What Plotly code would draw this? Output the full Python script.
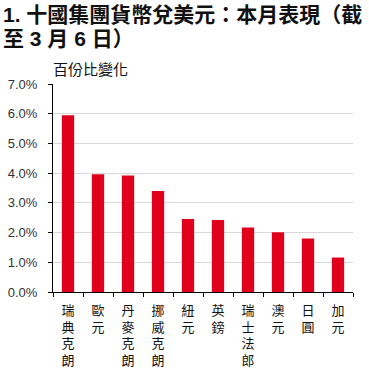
import plotly.graph_objects as go

categories = ["瑞典克朗", "歐元", "丹麥克朗", "挪威克朗", "紐元", "英鎊", "瑞士法郎", "澳元", "日圓", "加元"]
values = [5.95, 3.96, 3.92, 3.40, 2.46, 2.42, 2.17, 2.01, 1.80, 1.16]
y_ticks = [0, 1, 2, 3, 4, 5, 6, 7]
y_tick_labels = ["0.0%", "1.0%", "2.0%", "3.0%", "4.0%", "5.0%", "6.0%", "7.0%"]
title_line1 = "1. 十國集團貨幣兌美元：本月表現（截"
title_line2 = "至 3 月 6 日）"
y_title = "百份比變化"

vertical_labels = ["<br>".join(list(c)) for c in categories]

CJK = "Liberation Sans, Noto Sans CJK TC, sans-serif"

W, H = 369, 377
L, R = 53, W - 353
T, B = 83.5, H - 292.3

fig = go.Figure(go.Bar(
    x=vertical_labels,
    y=values,
    marker=dict(color="#e0001b", line=dict(width=0)),
    width=0.41,
))

fig.update_layout(
    width=W, height=H,
    margin=dict(l=L, r=R, t=T, b=B, autoexpand=False),
    paper_bgcolor="white",
    plot_bgcolor="white",
    showlegend=False,
    font=dict(family=CJK, color="#000"),
    xaxis=dict(
        type="category",
        automargin=False,
        tickson="boundaries",
        ticks="outside",
        ticklen=4,
        tickcolor="#000",
        showline=True,
        linecolor="#000",
        linewidth=1,
        showgrid=False,
        tickfont=dict(size=13, color="#111", family=CJK),
        tickangle=0,
        ticklabelstandoff=6,
    ),
    yaxis=dict(
        automargin=False,
        range=[0, 7],
        tickvals=y_ticks,
        ticktext=y_tick_labels,
        ticks="outside",
        ticklen=4,
        tickcolor="#000",
        showline=True,
        linecolor="#000",
        linewidth=1,
        showgrid=True,
        gridcolor="#d9d9d9",
        gridwidth=1,
        zeroline=False,
        tickfont=dict(size=13, color="#333", family="Liberation Sans, Arial, sans-serif"),
        ticklabelstandoff=8,
    ),
)

def ann(text, px_x, px_y, size):
    return dict(
        text=text,
        x=(px_x - L) / (W - L - R),
        y=1 - (px_y - T) / (H - T - B),
        xref="paper", yref="paper",
        xanchor="left", yanchor="middle", showarrow=False,
        font=dict(size=size, color="#111", family=CJK),
    )

fig.update_layout(annotations=[
    ann("<b>" + title_line1 + "</b>", 1, 13.5, 21),
    ann("<b>" + title_line2 + "</b>", 1, 38, 21),
    ann(y_title, 51, 69, 15),
])

fig.write_html(
    "out.html",
    config={"displayModeBar": False},
    post_script="document.body.style.margin='0';document.body.style.overflow='hidden';",
)
